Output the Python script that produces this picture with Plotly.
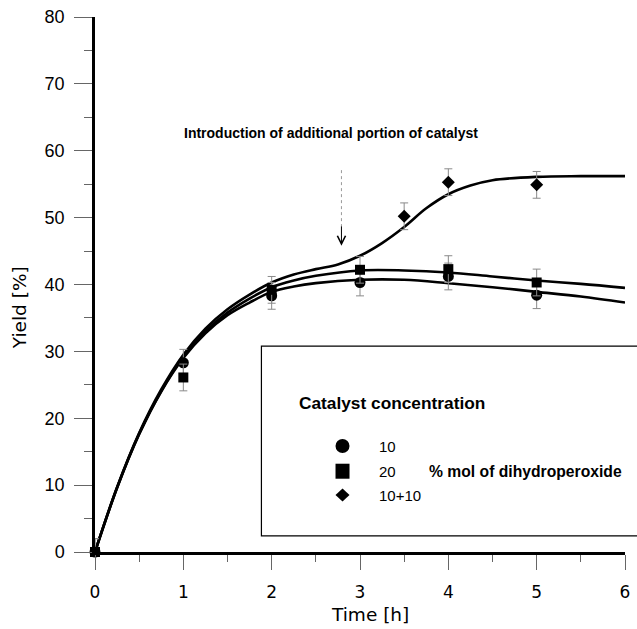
import plotly.graph_objects as go

# ---------------- data ----------------
time_h = [0, 1, 2, 3, 4, 5]
yield_10 = [0, 28.3, 38.3, 40.3, 41.2, 38.4]
err_10 = [2, 2, 2, 2, 2, 2]
yield_20 = [0, 26.1, 39.2, 42.2, 42.3, 40.3]
err_20 = [2, 2, 2, 2, 2, 2]
time_1010 = [3.5, 4, 5]
yield_1010 = [50.2, 55.3, 54.9]
err_1010 = [2, 2, 2]

fit_t = [0, 0.25, 0.5, 0.75, 1, 1.25, 1.5, 1.75, 2, 2.25, 2.5, 3, 3.5, 4, 4.5, 5, 5.5, 6]
fit_10 = [0, 9.6, 17.6, 24.0, 29.0, 32.7, 35.4, 37.3, 38.9, 39.7, 40.2, 40.7, 40.7, 40.2, 39.6, 38.9, 38.2, 37.3]
fit_20 = [0, 9.6, 17.7, 24.1, 29.2, 33.0, 35.8, 37.9, 39.6, 40.6, 41.3, 42.1, 42.1, 41.8, 41.2, 40.6, 40.1, 39.5]
fit_t_1010 = [0, 0.25, 0.5, 0.75, 1, 1.25, 1.5, 1.75, 2, 2.25, 2.5, 2.75, 3, 3.25, 3.5, 3.75, 4,
              4.25, 4.5, 5, 5.5, 6]
fit_1010 = [0, 9.7, 17.8, 24.3, 29.5, 33.4, 36.3, 38.5, 40.3, 41.5, 42.3, 43.0, 44.3, 46.2, 48.6,
            51.4, 53.5, 54.8, 55.6, 56.1, 56.2, 56.2]

x_ticks = [0, 1, 2, 3, 4, 5, 6]
y_ticks = [0, 10, 20, 30, 40, 50, 60, 70, 80]

series_labels = ["10", "20", "10+10"]
title_note = "Introduction of additional portion of catalyst"
legend_title = "Catalyst concentration"
legend_unit = "% mol of dihydroperoxide"
arrow_t = 2.79

# ---------------- figure ----------------
fig = go.Figure()

line_style = dict(color="black", width=2.6, shape="spline", smoothing=1.0)
for tx, ty in [(fit_t, fit_10), (fit_t, fit_20), (fit_t_1010, fit_1010)]:
    fig.add_trace(go.Scatter(x=tx, y=ty, mode="lines", line=line_style,
                             showlegend=False, hoverinfo="skip", cliponaxis=False))

err_style = dict(type="data", color="#8a8a8a", thickness=1, width=4)
fig.add_trace(go.Scatter(x=time_h, y=yield_10, mode="markers", name=series_labels[0],
                         marker=dict(symbol="circle", size=11, color="black"),
                         error_y=dict(array=err_10, **err_style), cliponaxis=False,
                         showlegend=False))
fig.add_trace(go.Scatter(x=time_h, y=yield_20, mode="markers", name=series_labels[1],
                         marker=dict(symbol="square", size=10, color="black"),
                         error_y=dict(array=err_20, **err_style), cliponaxis=False,
                         showlegend=False))
fig.add_trace(go.Scatter(x=time_1010, y=yield_1010, mode="markers", name=series_labels[2],
                         marker=dict(symbol="diamond", size=10, color="black"),
                         error_y=dict(array=err_1010, **err_style), cliponaxis=False,
                         showlegend=False))

# legend box and its content (paper coordinates)
shapes = [
    dict(type="rect", xref="paper", yref="paper", x0=0.314, x1=1.03, y0=0.030, y1=0.385,
         line=dict(color="black", width=1.2), fillcolor="white", layer="below"),
    dict(type="line", xref="x", yref="y", x0=arrow_t, x1=arrow_t, y0=57.1, y1=48.6,
         line=dict(color="#999999", width=1, dash="dot")),
]
lx = 0.467
ly = [0.198, 0.151, 0.1065]
shapes.append(dict(type="circle", xref="paper", yref="paper", xsizemode="pixel", ysizemode="pixel",
                   xanchor=lx, yanchor=ly[0], x0=-7, x1=7, y0=-7, y1=7,
                   fillcolor="black", line=dict(width=0)))
shapes.append(dict(type="rect", xref="paper", yref="paper", xsizemode="pixel", ysizemode="pixel",
                   xanchor=lx, yanchor=ly[1], x0=-7, x1=7, y0=-7.5, y1=7.5,
                   fillcolor="black", line=dict(width=0)))
shapes.append(dict(type="path", xref="paper", yref="paper", xsizemode="pixel", ysizemode="pixel",
                   xanchor=lx, yanchor=ly[2], path="M -7 0 L 0 6.5 L 7 0 L 0 -6.5 Z",
                   fillcolor="black", line=dict(width=0)))

annotations = [
    dict(text="<b>" + title_note + "</b>", xref="paper", yref="paper", x=0.1645, y=0.783,
         xanchor="left", yanchor="middle", showarrow=False,
         font=dict(family="Liberation Sans, Arial", size=14, color="black")),
    dict(text="<b>" + legend_title + "</b>", xref="paper", yref="paper", x=0.381, y=0.2785,
         xanchor="left", yanchor="middle", showarrow=False,
         font=dict(family="Liberation Sans, Arial", size=17.3, color="black")),
    dict(text="<b>" + legend_unit + "</b>", xref="paper", yref="paper", x=0.626, y=ly[1],
         xanchor="left", yanchor="middle", showarrow=False,
         font=dict(family="Liberation Sans, Arial", size=15.7, color="black")),
    dict(text="", x=arrow_t, y=45.8, ax=arrow_t, ay=48.9, xref="x", yref="y", axref="x", ayref="y",
         showarrow=True, arrowhead=5, arrowsize=1.6, arrowwidth=1, arrowcolor="black"),
    dict(text="Time [h]", xref="paper", yref="paper", x=0.518, y=-0.117,
         xanchor="center", yanchor="middle", showarrow=False,
         font=dict(family="DejaVu Sans", size=18.5, color="black")),
    dict(text="Yield [%]", xref="paper", yref="paper", x=-0.143, y=0.456, textangle=-90,
         xanchor="center", yanchor="middle", showarrow=False,
         font=dict(family="DejaVu Sans", size=18.5, color="black")),
]
for lab, yy in zip(series_labels, ly):
    annotations.append(dict(text=lab, xref="paper", yref="paper", x=0.533, y=yy,
                            xanchor="left", yanchor="middle", showarrow=False,
                            font=dict(family="Liberation Sans Narrow, Arial Narrow, Liberation Sans",
                                      size=15, color="black")))

fig.update_layout(
    width=637, height=629,
    margin=dict(l=95, r=7, t=17, b=77),
    paper_bgcolor="white", plot_bgcolor="white",
    shapes=shapes, annotations=annotations,
    showlegend=False,
)
fig.update_xaxes(range=[0, 6], tickvals=x_ticks, ticktext=[str(v) for v in x_ticks],
                 showgrid=False, zeroline=False, showline=True, linecolor="black", linewidth=2.5,
                 ticks="outside", ticklen=15, tickwidth=1, tickcolor="#666666",
                 ticklabelstandoff=8,
                 minor=dict(dtick=0.5, ticks="outside", ticklen=7, tickwidth=1, tickcolor="#666666",
                            showgrid=False),
                 tickfont=dict(family="DejaVu Sans", size=17, color="black"))
fig.update_yaxes(range=[0, 80], tickvals=y_ticks, ticktext=[str(v) for v in y_ticks],
                 showgrid=False, zeroline=False, showline=True, linecolor="black", linewidth=2.5,
                 ticks="outside", ticklen=18, tickwidth=1, tickcolor="#666666",
                 ticklabelstandoff=6,
                 minor=dict(dtick=5, ticks="outside", ticklen=8, tickwidth=1, tickcolor="#666666",
                            showgrid=False),
                 tickfont=dict(family="Liberation Sans Narrow, Arial Narrow, Liberation Sans",
                               size=18, color="black"))

fig.write_html("out.html")
